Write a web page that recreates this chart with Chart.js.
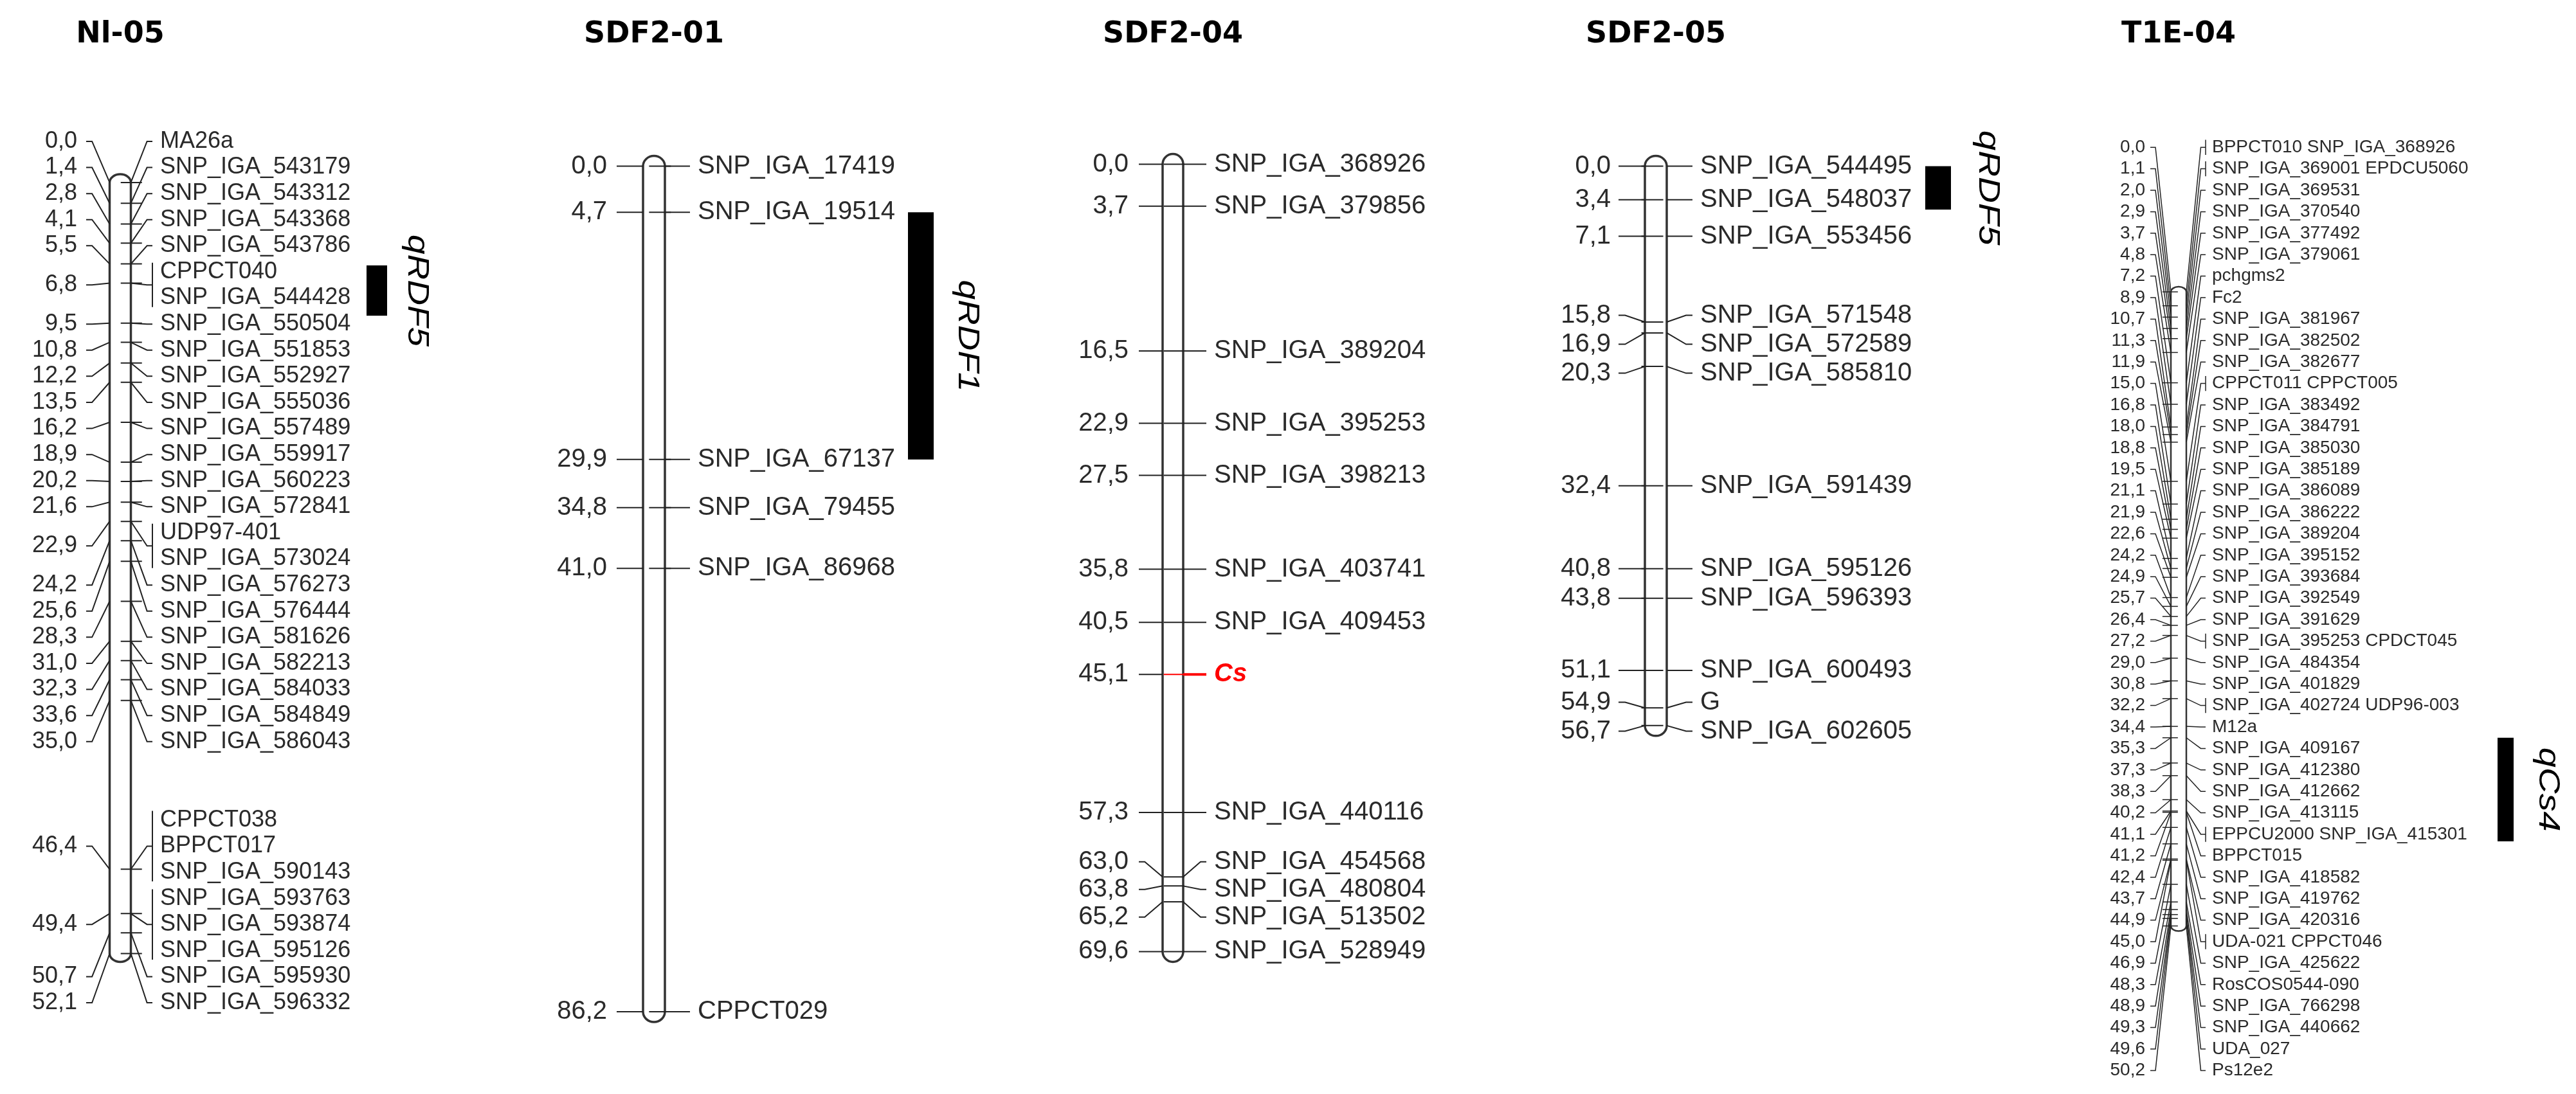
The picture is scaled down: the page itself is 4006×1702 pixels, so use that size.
<!DOCTYPE html>
<html>
<head>
<meta charset="utf-8">
<script src="https://cdn.jsdelivr.net/npm/chart.js@4"></script>
<style>
  html, body { margin: 0; padding: 0; background: #fff; }
  canvas { display: block; }
</style>
</head>
<body>
<canvas id="map" width="4006" height="1702"></canvas>
<script>
// Linkage groups: positions (cM) and marker names
const groupTitles = ['Nl-05', 'SDF2-01', 'SDF2-04', 'SDF2-05', 'T1E-04'];

const nl05Pos = [0.0, 1.4, 2.8, 4.1, 5.5, 6.8, 9.5, 10.8, 12.2, 13.5, 16.2, 18.9, 20.2, 21.6, 22.9,
  24.2, 25.6, 28.3, 31.0, 32.3, 33.6, 35.0, 46.4, 49.4, 50.7, 52.1];
const nl05Markers = [['MA26a'], ['SNP_IGA_543179'], ['SNP_IGA_543312'], ['SNP_IGA_543368'], ['SNP_IGA_543786'],
  ['CPPCT040', 'SNP_IGA_544428'], ['SNP_IGA_550504'], ['SNP_IGA_551853'], ['SNP_IGA_552927'], ['SNP_IGA_555036'],
  ['SNP_IGA_557489'], ['SNP_IGA_559917'], ['SNP_IGA_560223'], ['SNP_IGA_572841'], ['UDP97-401', 'SNP_IGA_573024'],
  ['SNP_IGA_576273'], ['SNP_IGA_576444'], ['SNP_IGA_581626'], ['SNP_IGA_582213'], ['SNP_IGA_584033'],
  ['SNP_IGA_584849'], ['SNP_IGA_586043'], ['CPPCT038', 'BPPCT017', 'SNP_IGA_590143'],
  ['SNP_IGA_593763', 'SNP_IGA_593874', 'SNP_IGA_595126'], ['SNP_IGA_595930'], ['SNP_IGA_596332']];

const sdf01Pos = [0.0, 4.7, 29.9, 34.8, 41.0, 86.2];
const sdf01Markers = [['SNP_IGA_17419'], ['SNP_IGA_19514'], ['SNP_IGA_67137'], ['SNP_IGA_79455'], ['SNP_IGA_86968'], ['CPPCT029']];

const sdf04Pos = [0.0, 3.7, 16.5, 22.9, 27.5, 35.8, 40.5, 45.1, 57.3, 63.0, 63.8, 65.2, 69.6];
const sdf04Markers = [['SNP_IGA_368926'], ['SNP_IGA_379856'], ['SNP_IGA_389204'], ['SNP_IGA_395253'], ['SNP_IGA_398213'],
  ['SNP_IGA_403741'], ['SNP_IGA_409453'], ['Cs'], ['SNP_IGA_440116'], ['SNP_IGA_454568'], ['SNP_IGA_480804'],
  ['SNP_IGA_513502'], ['SNP_IGA_528949']];

const sdf05Pos = [0.0, 3.4, 7.1, 15.8, 16.9, 20.3, 32.4, 40.8, 43.8, 51.1, 54.9, 56.7];
const sdf05Markers = [['SNP_IGA_544495'], ['SNP_IGA_548037'], ['SNP_IGA_553456'], ['SNP_IGA_571548'], ['SNP_IGA_572589'],
  ['SNP_IGA_585810'], ['SNP_IGA_591439'], ['SNP_IGA_595126'], ['SNP_IGA_596393'], ['SNP_IGA_600493'], ['G'], ['SNP_IGA_602605']];

const t1e04Pos = [0.0, 1.1, 2.0, 2.9, 3.7, 4.8, 7.2, 8.9, 10.7, 11.3, 11.9, 15.0, 16.8, 18.0, 18.8, 19.5, 21.1, 21.9,
  22.6, 24.2, 24.9, 25.7, 26.4, 27.2, 29.0, 30.8, 32.2, 34.4, 35.3, 37.3, 38.3, 40.2, 41.1, 41.2, 42.4, 43.7,
  44.9, 45.0, 46.9, 48.3, 48.9, 49.3, 49.6, 50.2];
const t1e04Markers = [['BPPCT010', 'SNP_IGA_368926'], ['SNP_IGA_369001', 'EPDCU5060'], ['SNP_IGA_369531'], ['SNP_IGA_370540'],
  ['SNP_IGA_377492'], ['SNP_IGA_379061'], ['pchgms2'], ['Fc2'], ['SNP_IGA_381967'], ['SNP_IGA_382502'], ['SNP_IGA_382677'],
  ['CPPCT011', 'CPPCT005'], ['SNP_IGA_383492'], ['SNP_IGA_384791'], ['SNP_IGA_385030'], ['SNP_IGA_385189'],
  ['SNP_IGA_386089'], ['SNP_IGA_386222'], ['SNP_IGA_389204'], ['SNP_IGA_395152'], ['SNP_IGA_393684'],
  ['SNP_IGA_392549'], ['SNP_IGA_391629'], ['SNP_IGA_395253', 'CPDCT045'], ['SNP_IGA_484354'], ['SNP_IGA_401829'],
  ['SNP_IGA_402724', 'UDP96-003'], ['M12a'], ['SNP_IGA_409167'], ['SNP_IGA_412380'], ['SNP_IGA_412662'],
  ['SNP_IGA_413115'], ['EPPCU2000', 'SNP_IGA_415301'], ['BPPCT015'], ['SNP_IGA_418582'], ['SNP_IGA_419762'],
  ['SNP_IGA_420316'], ['UDA-021', 'CPPCT046'], ['SNP_IGA_425622'], ['RosCOS0544-090'], ['SNP_IGA_766298'],
  ['SNP_IGA_440662'], ['UDA_027'], ['Ps12e2']];

// QTL intervals
const qtlNames = ['qRDF5', 'qRDF1', 'qRDF5', 'qCs4'];
const qtlGroup = [0, 1, 3, 4];
const qtlFrom = [5.6, 4.7, 0.0, 35.3];
const qtlTo = [9.0, 29.9, 4.4, 43.5];

const traitMarker = 'Cs';

// Drawing layout for each group (pixels)
const W = 4006, H = 1702;
const layoutCfg = [
  { cx: 187, w: 33, cap: 13, y0: 271, k: 23.55, gap: 40.6, font: 36, cmRight: 120, leftX: 134, rightX: 237, textX: 249, mode: 'stack', qx: 570, qw: 32, qlx: 648, qlen: 174 },
  { cx: 1017, w: 34, cap: 16, y0: 245, k: 15.61, gap: 44, font: 40, cmRight: 944, leftX: 959, rightX: 1073, textX: 1085, mode: 'stack', qx: 1412, qw: 40, qlx: 1504, qlen: 174 },
  { cx: 1824, w: 32, cap: 16, y0: 242, k: 18.0, gap: 43, font: 40, cmRight: 1755, leftX: 1771, rightX: 1876, textX: 1888, mode: 'stack' },
  { cx: 2575, w: 34, cap: 16, y0: 245, k: 15.7, gap: 45, font: 40, cmRight: 2505, leftX: 2517, rightX: 2632, textX: 2644, mode: 'stack', qx: 2994, qw: 40, qlx: 3091, qlen: 179 },
  { cx: 3388, w: 24, cap: 8, y0: 445, k: 20.1, gap: 33.4, font: 28, cmRight: 3336, leftX: 3344, rightX: 3430, textX: 3440, mode: 'inline', qx: 3884, qw: 25, qlx: 3962, qlen: 131 }
];

const groupPos = [nl05Pos, sdf01Pos, sdf04Pos, sdf05Pos, t1e04Pos];
const groupMarkers = [nl05Markers, sdf01Markers, sdf04Markers, sdf05Markers, t1e04Markers];

const fmt = v => v.toFixed(1).replace('.', ',');
const RED = '#ff0000';

// spread label rows so they don't overlap (clusters centred on their ideal span)
function layoutLabels(ideal, lines, gap) {
  let clusters = ideal.map((y, i) => ({ items: [i], first: y, last: y, n: lines[i] }));
  const top = c => (c.first + c.last) / 2 - c.n * gap / 2;
  let merged = true;
  while (merged) {
    merged = false;
    for (let i = 1; i < clusters.length; i++) {
      const a = clusters[i - 1], b = clusters[i];
      if (top(b) < top(a) + a.n * gap - 0.5) {
        clusters.splice(i - 1, 2, { items: a.items.concat(b.items), first: a.first, last: b.last, n: a.n + b.n });
        merged = true;
        break;
      }
    }
  }
  const rows = [];
  clusters.forEach(c => {
    let y = top(c);
    c.items.forEach(i => {
      rows[i] = { top: y, center: y + lines[i] * gap / 2 };
      y += lines[i] * gap;
    });
  });
  return rows;
}

const scales = {
  x: { type: 'linear', min: 0, max: W, display: false }
};
layoutCfg.forEach((g, i) => {
  scales['y' + i] = {
    type: 'linear', reverse: true, display: false,
    min: -g.y0 / g.k, max: (H - g.y0) / g.k
  };
});

const datasets = groupPos.map((pos, i) => ({
  label: groupTitles[i],
  yAxisID: 'y' + i,
  xAxisID: 'x',
  data: pos.map(p => ({ x: layoutCfg[i].cx, y: p })),
  pointStyle: 'line',
  pointRadius: layoutCfg[i].w / 2,
  pointHoverRadius: layoutCfg[i].w / 2,
  pointBorderWidth: i === 4 ? 1.5 : 2,
  pointBorderColor: groupMarkers[i].map(m => m[0] === traitMarker ? RED : '#222'),
  showLine: false
}));

const linkageMap = {
  id: 'linkageMap',
  beforeDatasetsDraw(chart) {
    const ctx = chart.ctx;
    ctx.save();
    layoutCfg.forEach((g, i) => {
      const ys = chart.scales['y' + i];
      const pos = groupPos[i];
      const yTop = ys.getPixelForValue(pos[0]);
      const yEnd = ys.getPixelForValue(pos[pos.length - 1]);
      const L = g.cx - g.w / 2, R = g.cx + g.w / 2;
      ctx.beginPath();
      ctx.moveTo(L, yTop);
      ctx.lineTo(L, yEnd);
      ctx.ellipse(g.cx, yEnd, g.w / 2, g.cap, 0, Math.PI, 0, true);
      ctx.lineTo(R, yTop);
      ctx.ellipse(g.cx, yTop, g.w / 2, g.cap, 0, 0, -Math.PI, true);
      ctx.closePath();
      ctx.fillStyle = '#fff';
      ctx.fill();
      ctx.strokeStyle = '#333';
      ctx.lineWidth = i === 4 ? 2.5 : 3.5;
      ctx.stroke();
    });
    ctx.restore();
  },
  afterDatasetsDraw(chart) {
    const ctx = chart.ctx;
    ctx.save();
    ctx.textBaseline = 'middle';

    // titles
    ctx.fillStyle = '#000';
    ctx.font = 'bold 46px "DejaVu Sans"';
    ctx.textAlign = 'center';
    layoutCfg.forEach((g, i) => ctx.fillText(groupTitles[i], g.cx, 54));

    layoutCfg.forEach((g, i) => {
      const ys = chart.scales['y' + i];
      const pos = groupPos[i];
      const markers = groupMarkers[i];
      const ideal = pos.map(p => ys.getPixelForValue(p));
      const lines = markers.map(m => g.mode === 'stack' ? m.length : 1);
      const rows = layoutLabels(ideal, lines, g.gap);
      const L = g.cx - g.w / 2, R = g.cx + g.w / 2;
      const fontStr = g.font + 'px "Liberation Sans", Arial, sans-serif';
      ctx.lineWidth = i === 4 ? 1.5 : 2;

      pos.forEach((p, j) => {
        const my = ideal[j];
        const cy = rows[j].center;
        const isTrait = markers[j][0] === traitMarker;
        const kl = g.leftX + 0.25 * (L - g.leftX);
        const kr = g.rightX - 0.25 * (g.rightX - R);

        // left connector
        ctx.strokeStyle = '#222';
        ctx.beginPath();
        ctx.moveTo(g.leftX, cy);
        ctx.lineTo(kl, cy);
        ctx.lineTo(L, my);
        ctx.stroke();

        // right connector
        ctx.strokeStyle = isTrait ? RED : '#222';
        ctx.lineWidth = isTrait ? 4 : (i === 4 ? 1.5 : 2);
        ctx.beginPath();
        ctx.moveTo(R, my);
        ctx.lineTo(kr, cy);
        ctx.lineTo(g.rightX, cy);
        ctx.stroke();
        ctx.lineWidth = i === 4 ? 1.5 : 2;
        ctx.strokeStyle = '#222';

        // bracket for grouped markers
        if (markers[j].length > 1) {
          ctx.beginPath();
          if (g.mode === 'stack') {
            ctx.moveTo(g.rightX, rows[j].top + g.gap * 0.15);
            ctx.lineTo(g.rightX, rows[j].top + lines[j] * g.gap - g.gap * 0.15);
          } else {
            ctx.moveTo(g.rightX, cy - g.gap * 0.35);
            ctx.lineTo(g.rightX, cy + g.gap * 0.35);
          }
          ctx.stroke();
        }

        // position label
        ctx.fillStyle = '#2a2a2a';
        ctx.font = fontStr;
        ctx.textAlign = 'right';
        ctx.fillText(fmt(p), g.cmRight, cy);

        // marker names
        ctx.textAlign = 'left';
        if (isTrait) {
          ctx.fillStyle = RED;
          ctx.font = 'italic bold ' + fontStr;
          ctx.fillText(markers[j][0], g.textX, cy);
        } else if (g.mode === 'stack') {
          markers[j].forEach((name, n) => {
            ctx.fillText(name, g.textX, rows[j].top + (n + 0.5) * g.gap);
          });
        } else {
          ctx.fillText(markers[j].join(' '), g.textX, cy);
        }
      });
    });

    // QTL bars and labels
    qtlNames.forEach((name, q) => {
      const g = layoutCfg[qtlGroup[q]];
      const ys = chart.scales['y' + qtlGroup[q]];
      const a = ys.getPixelForValue(qtlFrom[q]);
      const b = ys.getPixelForValue(qtlTo[q]);
      ctx.fillStyle = '#000';
      ctx.fillRect(g.qx, a, g.qw, b - a);

      ctx.save();
      ctx.translate(g.qlx, (a + b) / 2);
      ctx.rotate(Math.PI / 2);
      ctx.font = 'italic 46px "Liberation Sans Narrow", "Liberation Sans", sans-serif';
      const tw = ctx.measureText(name).width;
      ctx.scale(g.qlen / tw, 1);
      ctx.textAlign = 'center';
      ctx.textBaseline = 'middle';
      ctx.fillText(name, 0, 0);
      ctx.restore();
    });
    ctx.restore();
  }
};

new Chart(document.getElementById('map'), {
  type: 'scatter',
  data: { datasets },
  options: {
    responsive: false,
    animation: false,
    devicePixelRatio: 1,
    events: [],
    layout: { padding: 0 },
    scales,
    plugins: { legend: { display: false }, tooltip: { enabled: false }, title: { display: false } }
  },
  plugins: [linkageMap]
});
</script>
</body>
</html>
